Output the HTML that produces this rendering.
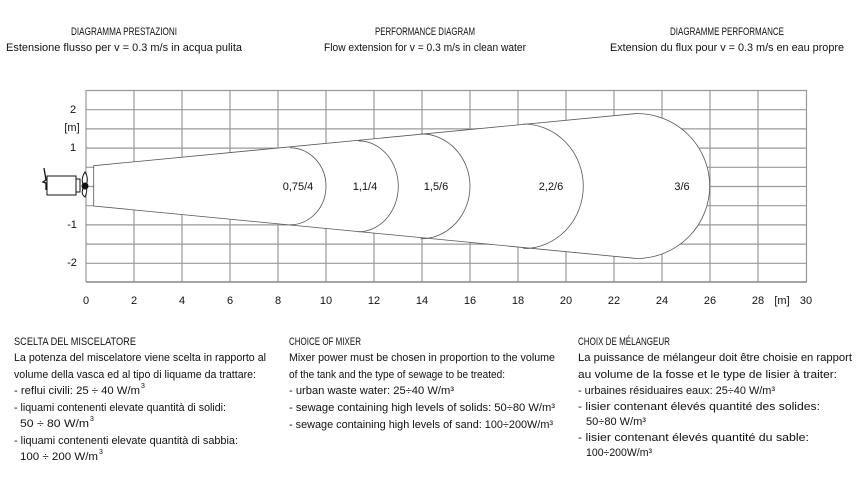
<!DOCTYPE html>
<html><head><meta charset="utf-8"><style>
html,body{margin:0;padding:0;background:#fff;width:859px;height:480px;overflow:hidden}
text{font-family:"Liberation Sans",sans-serif;font-size:11px;fill:#111}
</style></head><body>
<svg width="859" height="480" viewBox="0 0 859 480" xmlns="http://www.w3.org/2000/svg">
<text x="124" y="35" text-anchor="middle" textLength="106" lengthAdjust="spacingAndGlyphs">DIAGRAMMA PRESTAZIONI</text>
<text x="124" y="51" text-anchor="middle" textLength="236" lengthAdjust="spacingAndGlyphs">Estensione flusso per v = 0.3 m/s in acqua pulita</text>
<text x="425" y="35" text-anchor="middle" textLength="100" lengthAdjust="spacingAndGlyphs">PERFORMANCE DIAGRAM</text>
<text x="425" y="51" text-anchor="middle" textLength="202" lengthAdjust="spacingAndGlyphs">Flow extension for v = 0.3 m/s in clean water</text>
<text x="727" y="35" text-anchor="middle" textLength="114" lengthAdjust="spacingAndGlyphs">DIAGRAMME PERFORMANCE</text>
<text x="727" y="51" text-anchor="middle" textLength="234" lengthAdjust="spacingAndGlyphs">Extension du flux pour v = 0.3 m/s en eau propre</text>

<g stroke="#999" stroke-width="1.2" fill="none">
<path d="M86 90.5H807M86 109.7H807M86 128.9H807M86 148.1H807M86 167.3H807M86 186.5H807M86 205.7H807M86 224.9H807M86 244.1H807M86 263.3H807"/>
<path d="M86 90V282M134 90V282M182 90V282M230 90V282M278 90V282M326 90V282M374 90V282M422 90V282M470 90V282M518 90V282M566 90V282M614 90V282M662 90V282M710 90V282M758 90V282M806.5 90V282"/>
<path d="M86 282H807" stroke="#888" stroke-width="1.6"/>
</g>
<path d="M93.7 165.7 L636.7 113.5 A73 72.5 0 0 1 636.7 258.5 L93.7 206 Z" fill="#fff" stroke="#555" stroke-width="0.8"/>
<g fill="none" stroke="#555" stroke-width="0.8">
<path d="M290 147.8 A36 38.5 0 0 1 290 224.8"/>
<path d="M358.3 140.8 A40 45.5 0 0 1 358.3 231.8"/>
<path d="M420.7 133.8 A49.3 52.5 0 0 1 420.7 238.8"/>
<path d="M523.3 124 A60 62.3 0 0 1 523.3 248.6"/>
</g>
<text x="298" y="190" text-anchor="middle">0,75/4</text>
<text x="365" y="190" text-anchor="middle">1,1/4</text>
<text x="436" y="190" text-anchor="middle">1,5/6</text>
<text x="551" y="190" text-anchor="middle">2,2/6</text>
<text x="682" y="190" text-anchor="middle">3/6</text>

<g stroke="#111" fill="#fff" stroke-width="1">
<rect x="47" y="176" width="29" height="19"/>
<rect x="76" y="179" width="4" height="13"/>
<path d="M44 168 L46 180 L43 182 L46 183 L46 190" fill="none" stroke-width="1.3"/>
<path d="M85 172 Q80 180 84 186 Q80 194 85 197 Q88 190 86 186 Q89 178 85 172 Z"/>
<circle cx="85" cy="186" r="3" fill="#111"/>
</g>

<g text-anchor="middle">
<text x="86" y="304">0</text><text x="134" y="304">2</text><text x="182" y="304">4</text><text x="230" y="304">6</text>
<text x="278" y="304">8</text><text x="326" y="304">10</text><text x="374" y="304">12</text><text x="422" y="304">14</text>
<text x="470" y="304">16</text><text x="518" y="304">18</text><text x="566" y="304">20</text><text x="614" y="304">22</text>
<text x="662" y="304">24</text><text x="710" y="304">26</text><text x="758" y="304">28</text><text x="782" y="304">[m]</text><text x="806" y="304">30</text>
<text x="73" y="113">2</text><text x="72" y="131">[m]</text><text x="73" y="151">1</text><text x="72" y="228">-1</text><text x="72" y="266">-2</text>
</g>

<g>
<text x="14" y="345" textLength="122" lengthAdjust="spacingAndGlyphs">SCELTA DEL MISCELATORE</text>
<text x="14" y="361" textLength="252" lengthAdjust="spacingAndGlyphs">La potenza del miscelatore viene scelta in rapporto al</text>
<text x="14" y="378" textLength="242" lengthAdjust="spacingAndGlyphs">volume della vasca ed al tipo di liquame da trattare:</text>
<text x="14" y="394" textLength="126" lengthAdjust="spacingAndGlyphs">- reflui civili: 25 ÷ 40 W/m</text><text x="141" y="388" style="font-size:7px">3</text>
<text x="14" y="411" textLength="212" lengthAdjust="spacingAndGlyphs">- liquami contenenti elevate quantità di solidi:</text>
<text x="20" y="427" textLength="69" lengthAdjust="spacingAndGlyphs">50 ÷ 80 W/m</text><text x="90" y="421" style="font-size:7px">3</text>
<text x="14" y="444" textLength="224" lengthAdjust="spacingAndGlyphs">- liquami contenenti elevate quantità di sabbia:</text>
<text x="20" y="460" textLength="78" lengthAdjust="spacingAndGlyphs">100 ÷ 200 W/m</text><text x="99" y="454" style="font-size:7px">3</text>
</g>
<g>
<text x="289" y="345" textLength="72" lengthAdjust="spacingAndGlyphs">CHOICE OF MIXER</text>
<text x="289" y="361" textLength="266" lengthAdjust="spacingAndGlyphs">Mixer power must be chosen in proportion to the volume</text>
<text x="289" y="378" textLength="216" lengthAdjust="spacingAndGlyphs">of the tank and the type of sewage to be treated:</text>
<text x="289" y="394" textLength="165" lengthAdjust="spacingAndGlyphs">- urban waste water: 25÷40 W/m³</text>
<text x="289" y="411" textLength="266" lengthAdjust="spacingAndGlyphs">- sewage containing high levels of solids: 50÷80 W/m³</text>
<text x="289" y="428" textLength="264" lengthAdjust="spacingAndGlyphs">- sewage containing high levels of sand: 100÷200W/m³</text>
</g>
<g>
<text x="578" y="345" textLength="92" lengthAdjust="spacingAndGlyphs">CHOIX DE MÉLANGEUR</text>
<text x="578" y="361" textLength="274" lengthAdjust="spacingAndGlyphs">La puissance de mélangeur doit être choisie en rapport</text>
<text x="578" y="378" textLength="259" lengthAdjust="spacingAndGlyphs">au volume de la fosse et le type de lisier à traiter:</text>
<text x="578" y="394" textLength="197" lengthAdjust="spacingAndGlyphs">- urbaines résiduaires eaux: 25÷40 W/m³</text>
<text x="578" y="410" textLength="242" lengthAdjust="spacingAndGlyphs">- lisier contenant élevés quantité des solides:</text>
<text x="586" y="425" textLength="60" lengthAdjust="spacingAndGlyphs">50÷80 W/m³</text>
<text x="578" y="441" textLength="231" lengthAdjust="spacingAndGlyphs">- lisier contenant élevés quantité du sable:</text>
<text x="586" y="456" textLength="66" lengthAdjust="spacingAndGlyphs">100÷200W/m³</text>
</g>
</svg>
</body></html>
